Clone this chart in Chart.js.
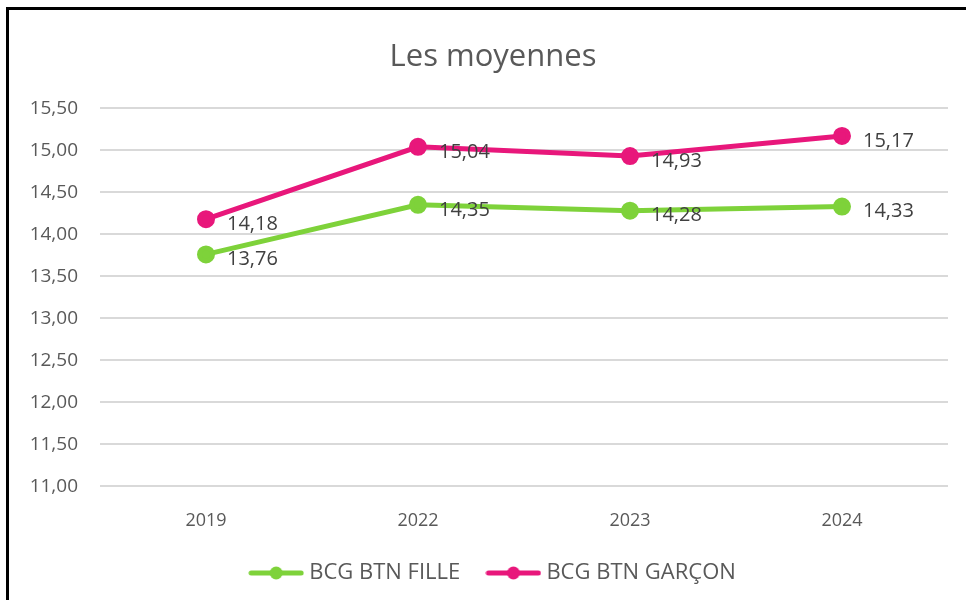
<!DOCTYPE html>
<html>
<head>
<meta charset="utf-8">
<script src="https://cdn.jsdelivr.net/npm/chart.js@4/dist/chart.umd.min.js"></script>
<style>
  html, body { margin: 0; padding: 0; background: #fff; }
  #wrap { position: relative; width: 966px; height: 600px; overflow: hidden; }
  #cadre { position: absolute; left: 6px; top: 7px; width: 1000px; height: 700px;
           border: 3px solid #000; box-sizing: border-box; pointer-events: none; }
  canvas { position: absolute; left: 0; top: 0; }
</style>
</head>
<body>
<div id="wrap">
  <canvas id="graphique" width="966" height="600"></canvas>
  <div id="cadre"></div>
</div>
<script>
// === Données ===
const annees = ["2019", "2022", "2023", "2024"];
const moyennesFille = [13.76, 14.35, 14.28, 14.33];
const moyennesGarcon = [14.18, 15.04, 14.93, 15.17];
const yMin = 11;
const yMax = 15.5;
const yPas = 0.5;

const vert = "#7ED23A";
const rose = "#E8177B";
const gris = "#595959";

const virgule = v => v.toFixed(2).replace(".", ",");

// marqueur de légende façon Excel : trait + rond
function marqueur(couleur) {
  const c = document.createElement("canvas");
  c.width = 56; c.height = 14;
  const g = c.getContext("2d");
  g.strokeStyle = couleur;
  g.lineWidth = 5;
  g.lineCap = "round";
  g.beginPath(); g.moveTo(3, 7); g.lineTo(53, 7); g.stroke();
  g.fillStyle = couleur;
  g.beginPath(); g.arc(28, 7, 6.5, 0, Math.PI * 2); g.fill();
  return c;
}

// étiquettes de valeurs à droite des points
const etiquettes = {
  id: "etiquettes",
  afterLayout(chart) {
    // titre et légende centrés sur le cadre, pas sur toute la toile
    chart.titleBlock.left = 38;
    chart.legend.left = 42;
  },
  afterDatasetsDraw(chart) {
    const ctx = chart.ctx;
    ctx.save();
    ctx.font = "20px 'Open Sans'";
    ctx.fillStyle = "#404040";
    ctx.textAlign = "left";
    ctx.textBaseline = "middle";
    chart.data.datasets.forEach((ds, i) => {
      chart.getDatasetMeta(i).data.forEach((pt, j) => {
        ctx.fillText(virgule(ds.data[j]), pt.x + 21, pt.y + 5);
      });
    });
    ctx.restore();
  }
};

const ctx = document.getElementById("graphique").getContext("2d");
const chart = new Chart(ctx, {
  type: "line",
  data: {
    labels: annees,
    datasets: [
      {
        label: "BCG BTN FILLE",
        data: moyennesFille,
        borderColor: vert,
        backgroundColor: vert,
        pointBackgroundColor: vert,
        pointBorderColor: vert,
        borderWidth: 5,
        pointRadius: 6.5,
        pointHoverRadius: 6.5,
        tension: 0
      },
      {
        label: "BCG BTN GARÇON",
        data: moyennesGarcon,
        borderColor: rose,
        backgroundColor: rose,
        pointBackgroundColor: rose,
        pointBorderColor: rose,
        borderWidth: 5,
        pointRadius: 6.5,
        pointHoverRadius: 6.5,
        tension: 0
      }
    ]
  },
  options: {
    responsive: false,
    animation: false,
    layout: { padding: { left: 0, right: 18, top: 0, bottom: 6 } },
    plugins: {
      title: {
        display: true,
        text: "Les moyennes",
        color: gris,
        font: { family: "'Open Sans'", size: 31, weight: "normal" },
        padding: { top: 39, bottom: 32 }
      },
      legend: {
        position: "bottom",
        labels: {
          color: gris,
          font: { family: "'Open Sans'", size: 22 },
          usePointStyle: true,
          pointStyleWidth: 44,
          boxHeight: 14,
          padding: 14,
          generateLabels(chart) {
            const n = chart.data.datasets.length;
            return chart.data.datasets.map((ds, i) => ({
              // espaces en fin de texte pour écarter les deux entrées
              text: ds.label + (i < n - 1 ? "   " : ""),
              fontColor: gris,
              pointStyle: marqueur(ds.borderColor),
              fillStyle: ds.borderColor,
              strokeStyle: ds.borderColor,
              lineWidth: 0,
              datasetIndex: i
            }));
          }
        }
      },
      tooltip: { enabled: false }
    },
    scales: {
      x: {
        offset: true,
        grid: { display: false },
        border: { display: false },
        ticks: { color: gris, font: { family: "'Open Sans'", size: 18 }, padding: 16 }
      },
      y: {
        min: yMin,
        max: yMax,
        grid: { color: "#D9D9D9", lineWidth: 2, drawTicks: false },
        border: { display: false },
        ticks: {
          stepSize: yPas,
          color: gris,
          font: { family: "'Open Sans'", size: 19 },
          padding: 22,
          callback: v => virgule(v)
        },
        afterFit(scale) { scale.width = 100; }
      }
    }
  },
  plugins: [etiquettes]
});
</script>
</body>
</html>
